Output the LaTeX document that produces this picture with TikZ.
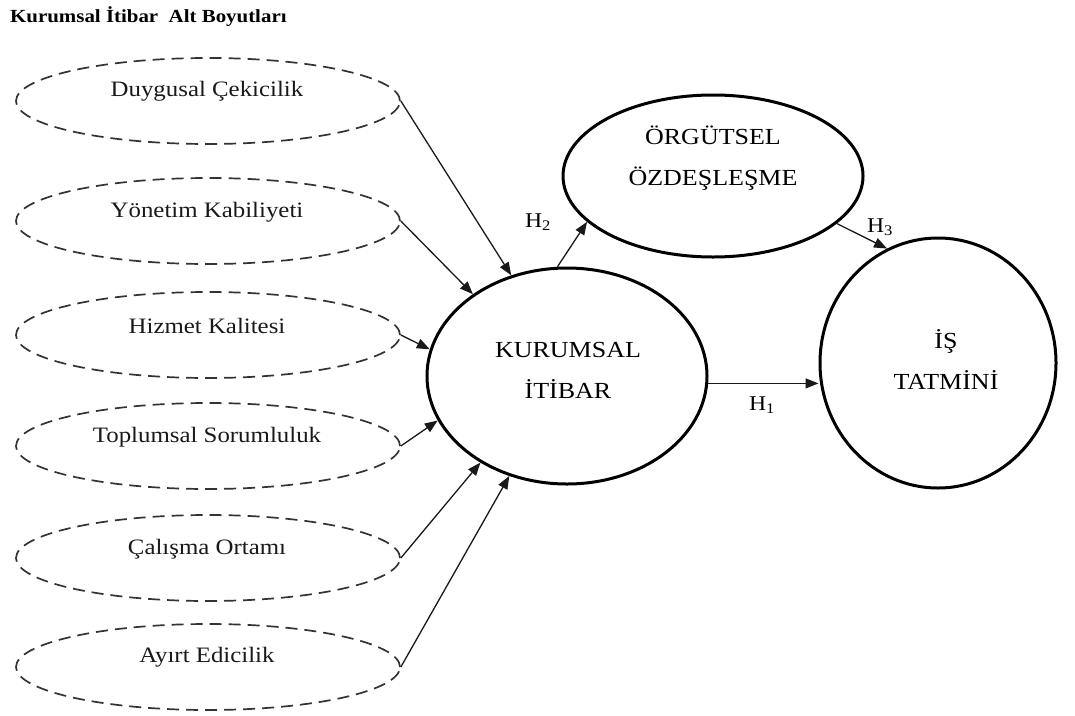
\documentclass[tikz,border=0pt]{standalone}
\usepackage{fontspec}
\setmainfont{Liberation Serif}[FakeStretch=1.13]
\usetikzlibrary{shapes.geometric,arrows.meta}
\tikzset{
  dimell/.style={draw=black!80, dash pattern=on 12pt off 7pt, line width=1.7pt, ellipse, inner sep=0pt, minimum width=384pt, minimum height=86pt},
  mainell/.style={draw=black, line width=3pt, ellipse, inner sep=0pt},
  dimtxt/.style={font=\fontsize{22}{26}\selectfont, text=black!90, inner sep=0pt},
  maintxt/.style={font=\fontsize{23}{41}\selectfont, align=center, inner sep=0pt},
  hyp/.style={font=\fontsize{21}{24}\selectfont, inner sep=0pt},
  arr/.style={-{Triangle[length=13pt,width=10pt]}, line width=1.3pt, draw=black!90},
}
\begin{document}
\begin{tikzpicture}[x=1pt,y=-1pt]
\useasboundingbox (0,0) rectangle (1075,715);
\node[anchor=west, font=\fontsize{18.5}{22}\selectfont\bfseries, inner sep=0pt] (title) at (10,17) {Kurumsal İtibar\ \ Alt Boyutları};

\node[dimell] (d1) at (208,101) {};
\node[dimell] (d2) at (208,221) {};
\node[dimell] (d3) at (208,335) {};
\node[dimell] (d4) at (208,446) {};
\node[dimell] (d5) at (208,558) {};
\node[dimell] (d6) at (208,667) {};
\node[dimtxt] (t1) at (207,91) {Duygusal Çekicilik};
\node[dimtxt] (t2) at (207,212) {Yönetim Kabiliyeti};
\node[dimtxt] (t3) at (207,326) {Hizmet Kalitesi};
\node[dimtxt] (t4) at (207,437) {Toplumsal Sorumluluk};
\node[dimtxt] (t5) at (207,549) {Çalışma Ortamı};
\node[dimtxt] (t6) at (207,657) {Ayırt Edicilik};

\node[mainell, minimum width=280pt, minimum height=216pt] (K) at (567,376) {};
\node[maintxt] (Kt) at (568,370) {KURUMSAL\\İTİBAR};
\node[mainell, minimum width=300pt, minimum height=162pt] (O) at (713,176) {};
\node[maintxt] (Ot) at (713,158) {ÖRGÜTSEL\\ÖZDEŞLEŞME};
\node[mainell, minimum width=236pt, minimum height=250pt] (I) at (938,363) {};
\node[maintxt] (It) at (946,360) {İŞ\\TATMİNİ};

\draw[arr] (d1.east) -- (K.119);
\draw[arr] (d2.east) -- (K.139);
\draw[arr] (d3.east) -- (K.169);
\draw[arr] (d4.east) -- (K.199);
\draw[arr] (d5.east) -- (K.225);
\draw[arr] (d6.east) -- (K.240);

\draw[arr] (K.95) -- (O.200);
\draw[arr] (O.-21) -- (I.114);
\draw[arr] (K.-3) -- (K.-3 -| I.west);

\node[hyp] (h1) at (762,405) {H\textsubscript{1}};
\node[hyp] (h2) at (538,222) {H\textsubscript{2}};
\node[hyp] (h3) at (880,227) {H\textsubscript{3}};
\end{tikzpicture}
\end{document}
